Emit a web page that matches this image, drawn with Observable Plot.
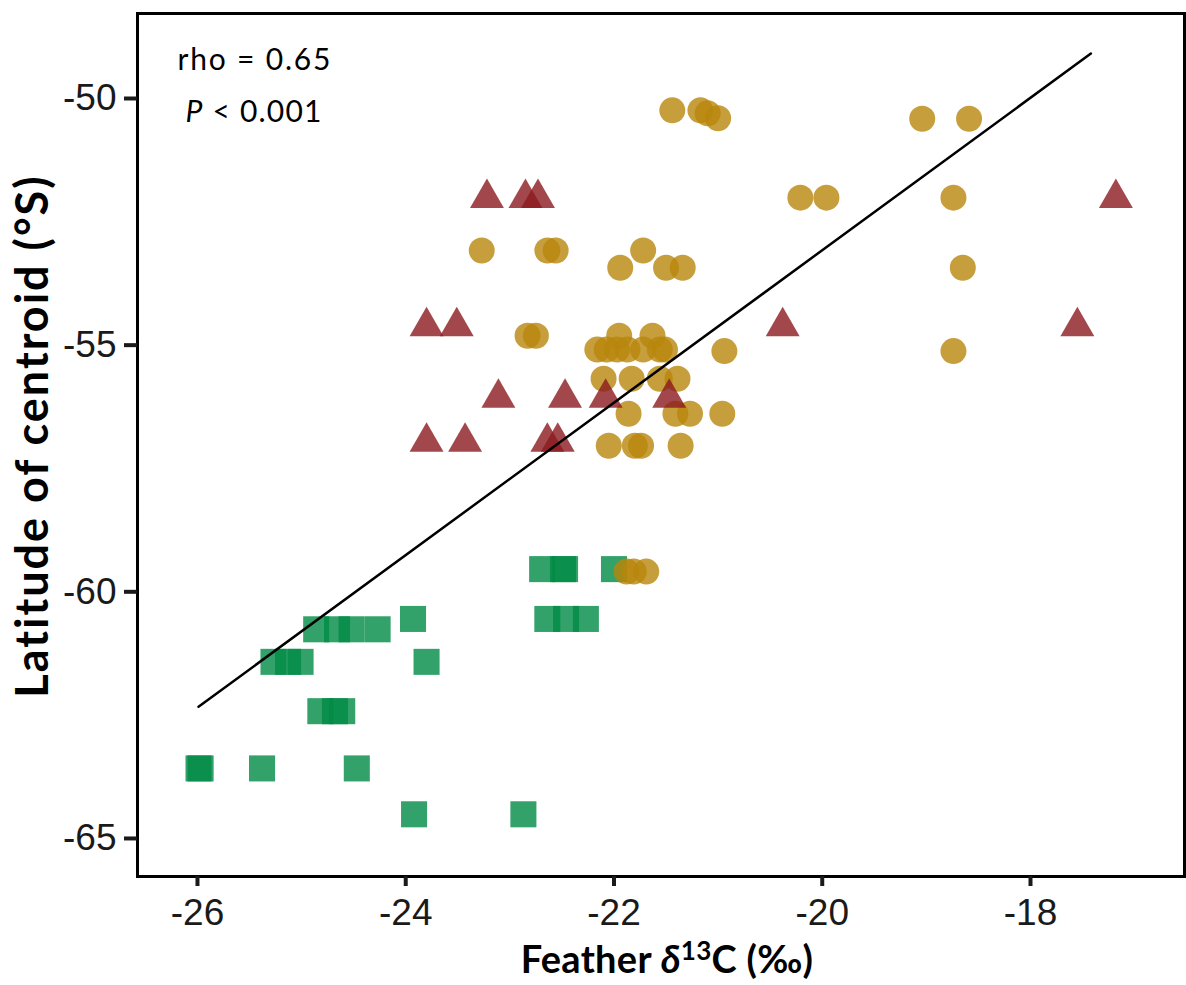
<!DOCTYPE html>
<html><head><meta charset="utf-8">
<script src="https://cdn.jsdelivr.net/npm/d3@7"></script>
<script src="https://cdn.jsdelivr.net/npm/@observablehq/plot@0.6"></script>
<style>html,body{margin:0;padding:0;background:#fff}</style>
</head><body><div id="chart"></div>
<script>
// Gold circles
const goldX = [-21.44,-21.17,-21.10,-21.00,-19.04,-18.59,
  -20.21,-19.96,-18.74,
  -23.27,-22.64,-22.56,-21.72,
  -21.94,-21.50,-21.34,-18.65,
  -22.83,-22.75,-21.95,-21.63,
  -22.16,-22.07,-21.97,-21.87,-21.72,-21.56,-21.51,-20.94,-18.74,
  -22.10,-21.83,-21.56,-21.39,
  -21.86,-21.41,-21.27,-20.96,
  -22.05,-21.80,-21.74,-21.36,
  -21.88,-21.81,-21.69];
const goldY = [-50.24,-50.24,-50.30,-50.40,-50.41,-50.41,
  -52.01,-52.01,-52.01,
  -53.08,-53.08,-53.08,-53.08,
  -53.43,-53.43,-53.43,-53.43,
  -54.81,-54.81,-54.81,-54.81,
  -55.09,-55.09,-55.09,-55.09,-55.09,-55.09,-55.09,-55.12,-55.12,
  -55.68,-55.68,-55.68,-55.68,
  -56.39,-56.39,-56.39,-56.39,
  -57.04,-57.04,-57.04,-57.04,
  -59.59,-59.59,-59.59];
// Red triangles
const redX = [-23.22,-22.85,-22.73,-17.18,
  -23.80,-23.51,-20.38,-17.55,
  -23.11,-22.47,-22.08,-21.47,
  -23.80,-23.43,-22.64,-22.54];
const redY = [-52.02,-52.02,-52.02,-52.02,
  -54.62,-54.62,-54.62,-54.62,
  -56.07,-56.07,-56.07,-56.07,
  -56.96,-56.96,-56.96,-56.96];
// Green squares
const greenX = [-22.69,-22.49,-22.47,-22.00,
  -23.93,-22.64,-22.46,-22.27,
  -24.86,-24.66,-24.52,-24.27,
  -25.27,-25.13,-25.01,-23.80,
  -24.82,-24.68,-24.61,
  -25.99,-25.97,-25.38,-24.47,
  -23.92,-22.87];
const greenY = [-59.54,-59.54,-59.54,-59.54,
  -60.55,-60.55,-60.55,-60.55,
  -60.76,-60.76,-60.76,-60.76,
  -61.42,-61.42,-61.42,-61.42,
  -62.42,-62.42,-62.42,
  -63.58,-63.58,-63.58,-63.58,
  -64.51,-64.51];
// Fitted line end points
const fitX = [-25.99, -17.42];
const fitY = [-62.33, -49.09];

const xTicks = [-26, -24, -22, -20, -18];
const yTicks = [-50, -55, -60, -65];
const xTitle = "Feather δ13C (‰)";
const yTitle = "Latitude of centroid (°S)";
const rhoText = "rho = 0.65";
const pText = "P < 0.001";

const pts = (xs, ys) => xs.map((x, i) => ({x, y: ys[i]}));
const gold = pts(goldX, goldY);
const red = pts(redX, redY);
const green = pts(greenX, greenY);
const fit = pts(fitX, fitY);

const titleFont = "Lato, 'Open Sans', sans-serif";

const chart = Plot.plot({
  width: 1186,
  height: 985,
  marginLeft: 137,
  marginRight: 2,
  marginTop: 13,
  marginBottom: 109,
  x: {domain: [-26.576, -16.521]},
  y: {domain: [-65.771, -48.277]},
  style: {fontFamily: "'Liberation Sans', Arial, sans-serif", background: "#fff", color: "#1a1a1a", overflow: "visible"},
  marks: [
    Plot.dot(green, {x: "x", y: "y", symbol: "square", r: 14.7, fill: "#008B45", fillOpacity: 0.8}),
    Plot.dot(gold, {x: "x", y: "y", symbol: "circle", r: 13, fill: "#B8860B", fillOpacity: 0.8}),
    Plot.dot(red, {x: "x", y: "y", symbol: "triangle", r: 12.6, fill: "#8B1A1F", fillOpacity: 0.8}),
    Plot.line(fit, {x: "x", y: "y", stroke: "#000", strokeWidth: 2.5}),
    Plot.frame({stroke: "#000", strokeWidth: 3}),
    Plot.axisX({ticks: xTicks, tickFormat: d => String(d), tickSize: 10, tickPadding: 12, fontSize: 37, strokeWidth: 4, label: null}),
    Plot.axisY({ticks: yTicks, tickFormat: d => String(d), tickSize: 13, tickPadding: 8, fontSize: 37, strokeWidth: 4, label: null}),
    Plot.text([xTitle], {text: d => d, frameAnchor: "bottom", textAnchor: "middle", lineAnchor: "middle", dx: 6, dy: 84, fontFamily: titleFont, fontWeight: "bold", fontSize: 38, fill: "#000"}),
    Plot.text([yTitle], {text: d => d, frameAnchor: "left", textAnchor: "middle", lineAnchor: "middle", rotate: -90, dx: -104, dy: -9, fontFamily: titleFont, fontWeight: "bold", fontSize: 45, fill: "#000"}),
    Plot.text([rhoText], {text: d => d, frameAnchor: "top-left", textAnchor: "start", lineAnchor: "middle", dx: 40, dy: 47, fontFamily: titleFont, fontSize: 30, fill: "#000"}),
    Plot.text([pText], {text: d => d, frameAnchor: "top-left", textAnchor: "start", lineAnchor: "middle", dx: 48, dy: 99, fontFamily: titleFont, fontSize: 30, fill: "#000"})
  ]
});

// rich text: italic delta with superscript, italic P; spacing tweaks
const NS = "http://www.w3.org/2000/svg";
function span(txt, attrs) {
  const s = document.createElementNS(NS, "tspan");
  s.textContent = txt;
  for (const k in attrs) s.setAttribute(k, attrs[k]);
  return s;
}
chart.querySelectorAll("text").forEach(t => {
  const c = t.textContent;
  if (c === xTitle) {
    t.textContent = "";
    t.style.letterSpacing = "0.3px";
    t.appendChild(span("Feather ", {}));
    t.appendChild(span("δ", {"font-style": "italic"}));
    t.appendChild(span("13", {"font-size": "26px", dy: "-13"}));
    t.appendChild(span("C (‰)", {dy: "13"}));
  } else if (c === pText) {
    t.textContent = "";
    t.style.letterSpacing = "1.2px";
    t.appendChild(span("P", {"font-style": "italic"}));
    t.appendChild(span(" < 0.001", {}));
  } else if (c === yTitle) {
    t.style.letterSpacing = "2px";
  } else if (c === rhoText) {
    t.style.letterSpacing = "1.8px";
  }
});
document.getElementById("chart").appendChild(chart);
</script>
</body></html>
